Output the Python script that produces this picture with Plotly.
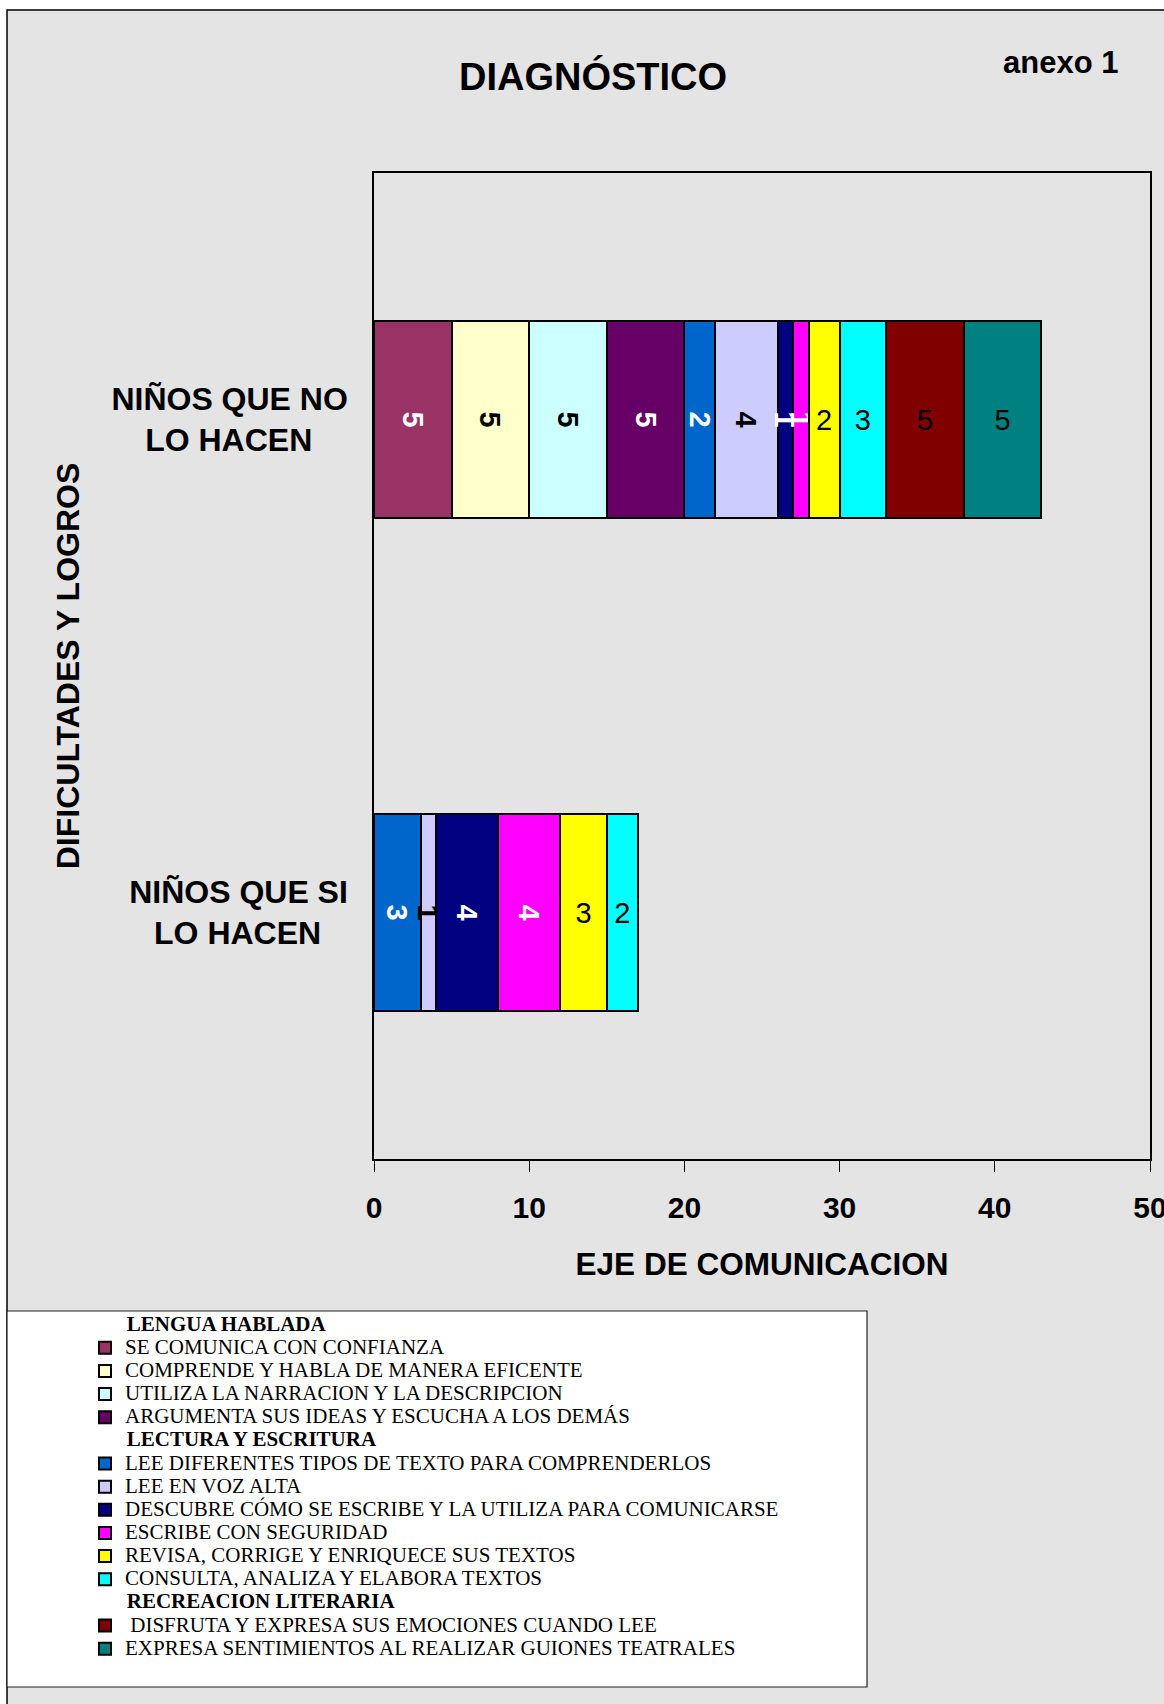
import plotly.graph_objects as go

# ---------------- data ----------------
categories = ["NIÑOS QUE SI LO HACEN", "NIÑOS QUE NO LO HACEN"]
category_ticktext = [
    "NIÑOS QUE SI<br>LO HACEN\u00a0\u00a0\u00a0",
    "NIÑOS QUE NO<br>LO HACEN\u00a0\u00a0\u00a0\u00a0",
]

series_names = [
    "SE COMUNICA CON CONFIANZA",
    "COMPRENDE Y HABLA DE MANERA EFICENTE",
    "UTILIZA LA NARRACION Y LA DESCRIPCION",
    "ARGUMENTA SUS IDEAS Y ESCUCHA A LOS DEMÁS",
    "LEE DIFERENTES TIPOS DE TEXTO PARA COMPRENDERLOS",
    "LEE EN VOZ ALTA",
    "DESCUBRE CÓMO SE ESCRIBE Y LA UTILIZA PARA COMUNICARSE",
    "ESCRIBE CON SEGURIDAD",
    "REVISA, CORRIGE Y ENRIQUECE SUS TEXTOS",
    "CONSULTA, ANALIZA Y ELABORA TEXTOS",
    "\u00a0DISFRUTA Y EXPRESA SUS EMOCIONES CUANDO LEE",
    "EXPRESA SENTIMIENTOS AL REALIZAR GUIONES TEATRALES",
]
series_groups = (["LENGUA HABLADA"] * 4 + ["LECTURA Y ESCRITURA"] * 6
                 + ["RECREACION LITERARIA"] * 2)

values_si = [0, 0, 0, 0, 3, 1, 4, 4, 3, 2, 0, 0]
values_no = [5, 5, 5, 5, 2, 4, 1, 1, 2, 3, 5, 5]

colors = ["#993366", "#FFFFCC", "#CCFFFF", "#660066", "#0066CC", "#CCCCFF",
          "#000080", "#FF00FF", "#FFFF00", "#00FFFF", "#800000", "#008080"]
label_colors = ["white", "black", "black", "white", "white", "black",
                "white", "white", "black", "black", "black", "black"]
label_angles = [90] * 8 + [0] * 4
label_weights = ["bold"] * 8 + ["normal"] * 4

x_ticks = [0, 10, 20, 30, 40, 50]

title_text = "DIAGNÓSTICO"
corner_text = "anexo 1"
x_title = "EJE DE COMUNICACION"
y_title = "DIFICULTADES Y LOGROS"

# ---------------- layout geometry ----------------
W, H = 1164, 1704
L, R, T, B = 374, 14, 173, 545
PW, PH = W - L - R, H - T - B


def px_x(x):
    return (x - L) / PW


def px_y(y):
    return (H - B - y) / PH


BG = "#e4e4e4"
SANS = "Liberation Sans, Arial, sans-serif"
SERIF = "Liberation Serif, Times New Roman, serif"
LEG_TXT = 21

fig = go.Figure()
seen = set()
for i, name in enumerate(series_names):
    grp = series_groups[i]
    gt = None
    if grp not in seen:
        seen.add(grp)
        gt = dict(text="<span style='font-size:%spx'>%s%s</span>" % (LEG_TXT, "\u00a0" * 7, grp),
                  font=dict(family=SERIF, size=15.5, color="black", weight="bold"))
    vals = [values_si[i], values_no[i]]
    fig.add_trace(go.Bar(
        y=categories, x=vals, orientation="h",
        name="<span style='font-size:%spx'>%s</span>" % (LEG_TXT, name),
        legendgroup=grp,
        legendgrouptitle=gt,
        text=[str(v) for v in vals],
        textposition="inside", insidetextanchor="middle",
        textangle=label_angles[i], constraintext="none",
        textfont=dict(family=SANS, size=29, color=label_colors[i],
                      weight=label_weights[i]),
        marker=dict(color=colors[i], line=dict(color="black", width=2)),
        hoverinfo="x+name",
    ))

fig.update_layout(
    width=W, height=H,
    margin=dict(l=L, r=R, t=T, b=B, autoexpand=False),
    barmode="stack", bargap=0.6,
    paper_bgcolor="white", plot_bgcolor=BG,
    uniformtext=dict(minsize=29, mode="show"),
    title=dict(text=title_text, x=593 / W, y=1 - 77 / H, xref="container", yref="container",
               xanchor="center", yanchor="middle",
               font=dict(family=SANS, size=38, color="black", weight="bold")),
    xaxis=dict(range=[0, 50], tickvals=x_ticks, ticks="outside", ticklen=11, tickwidth=1,
               tickcolor="black", showline=True, linecolor="black", linewidth=1.5, mirror=True,
               showgrid=False, zeroline=False, ticklabeloverflow="allow",
               ticklabelstandoff=10,
               tickfont=dict(family=SANS, size=30, color="black", weight="bold"),
               title=dict(text=x_title, standoff=30,
                          font=dict(family=SANS, size=31.5, color="black", weight="bold"))),
    yaxis=dict(tickvals=categories, ticktext=category_ticktext, ticks="",
               showline=True, linecolor="black", linewidth=1.5, mirror=True,
               showgrid=False, zeroline=False, ticklabelstandoff=18,
               tickfont=dict(family=SANS, size=32, color="black", weight="bold"),
               title=dict(text=y_title, standoff=22,
                          font=dict(family=SANS, size=32, color="black", weight="bold"))),
    showlegend=True,
    legend=dict(x=px_x(85), y=px_y(1308), xanchor="left", yanchor="top",
                traceorder="grouped", tracegroupgap=0, bgcolor="rgba(0,0,0,0)",
                borderwidth=0, font=dict(family=SERIF, size=15.5, color="black")),
    shapes=[
        dict(type="rect", xref="paper", yref="paper", layer="below",
             x0=px_x(7), x1=px_x(W + 20), y0=px_y(H + 20), y1=px_y(10),
             fillcolor=BG, line=dict(color="black", width=1.5)),
        dict(type="rect", xref="paper", yref="paper", layer="above",
             x0=px_x(7), x1=px_x(867), y0=px_y(1687), y1=px_y(1311),
             fillcolor="white", line=dict(color="#222222", width=1.2)),
    ],
    annotations=[
        dict(text=corner_text, xref="paper", yref="paper", x=px_x(1060), y=px_y(63),
             xanchor="center", yanchor="middle", showarrow=False,
             font=dict(family=SANS, size=31, color="black", weight="bold")),
    ],
)

fig.write_html("out.html", config={"displayModeBar": False},
               post_script="document.body.style.margin='0';")
